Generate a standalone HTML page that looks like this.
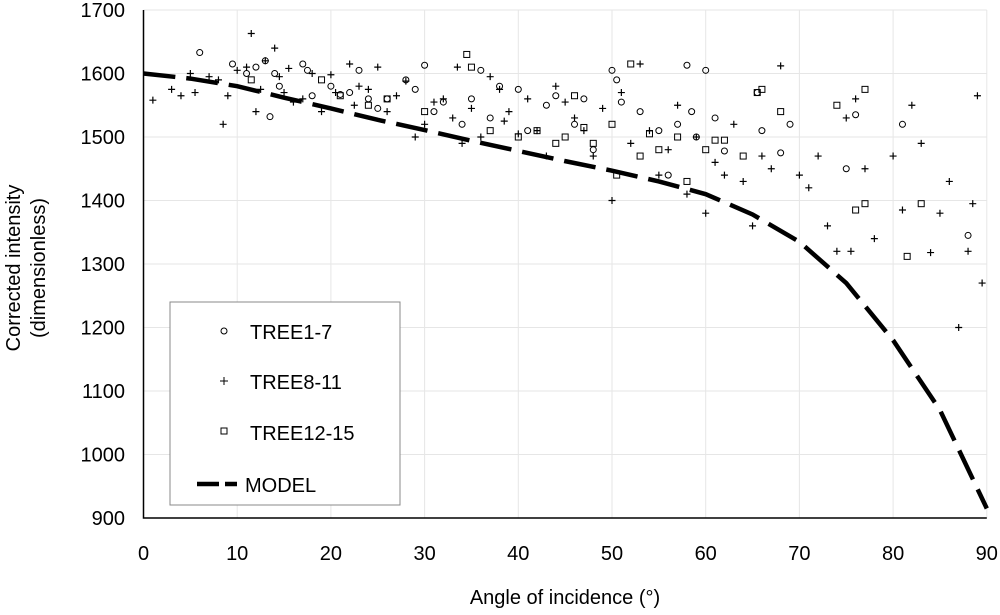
<!DOCTYPE html>
<html><head><meta charset="utf-8">
<style>
body{margin:0;background:#fff;width:1000px;height:610px;overflow:hidden;font-family:"Liberation Sans",sans-serif}
svg text{font-family:"Liberation Sans",sans-serif;fill:#000}
</style></head>
<body>
<svg id="chart" width="1000" height="610" viewBox="0 0 1000 610" xmlns="http://www.w3.org/2000/svg">
<g id="grid"></g>
<g id="axes"></g>
<g id="marks"></g>
<text x="565" y="604" font-size="20" text-anchor="middle">Angle of incidence (°)</text>
<text transform="translate(20,268) rotate(-90)" font-size="20" text-anchor="middle">Corrected intensity</text>
<text transform="translate(45,268) rotate(-90)" font-size="20" text-anchor="middle">(dimensionless)</text>
<g>
<rect x="170" y="302" width="230" height="203" fill="#fff" stroke="#888" stroke-width="1"/>
<g><circle cx="224" cy="331" r="3" fill="none" stroke="#000"/><text x="250" y="339" font-size="20">TREE1-7</text></g>
<g><path d="M220 381h8M224 377v8" stroke="#000"/><text x="250" y="389" font-size="20">TREE8-11</text></g>
<g><rect x="221" y="428" width="6" height="6" fill="none" stroke="#000"/><text x="250" y="440" font-size="20">TREE12-15</text></g>
<g><path d="M197 484h40" stroke="#000" stroke-width="4.5" stroke-dasharray="22 6"/><text x="245" y="492" font-size="20">MODEL</text></g>
</g>
</svg>
<script>
const xTicks=[0,10,20,30,40,50,60,70,80,90];
const yTicks=[900,1000,1100,1200,1300,1400,1500,1600,1700];
const modelAngles=[0,5,10,15,20,25,30,35,40,45,50,55,60,65,70,75,80,85,90];
const modelValues=[1600,1592,1580,1562,1545,1527,1511,1494,1478,1462,1447,1430,1410,1378,1335,1270,1180,1070,915];
const tree1Angles=[6,9.5,11,12,13,13.5,14,14.5,17,17.5,18,20,21,22,23,24,25,26,28,29,30,31,32,34,35,36,37,38,40,41,43,44,46,47,48,50,50.5,51,53,55,56,57,58,58.5,59,60,61,62,65.5,66,68,69,75,76,81,88];
const tree1Values=[1633,1615,1600,1610,1620,1532,1600,1580,1615,1605,1565,1580,1567,1570,1605,1560,1545,1560,1590,1575,1613,1540,1555,1520,1560,1605,1530,1580,1575,1510,1550,1565,1520,1560,1480,1605,1590,1555,1540,1510,1440,1520,1613,1540,1500,1605,1530,1478,1570,1510,1475,1520,1450,1535,1520,1345];
const tree2Angles=[1,3,4,5,5.5,7,8,8.5,9,10,11,11.5,12,12.5,13,14,14.5,15,15.5,16,17,18,19,20,20.5,22,22.5,23,24,25,26,27,28,29,30,31,32,33,33.5,34,35,36,37,38,38.5,39,40,41,42,43,44,45,46,47,48,49,50,51,52,53,54,55,56,57,58,59,60,61,62,63,64,65,66,67,68,70,71,72,73,74,75,75.5,76,77,78,80,81,82,83,84,85,86,87,88,88.5,89,89.5];
const tree2Values=[1558,1575,1565,1600,1570,1595,1590,1520,1565,1605,1610,1663,1540,1575,1620,1640,1595,1570,1608,1555,1560,1600,1540,1598,1570,1615,1550,1580,1575,1610,1540,1565,1588,1500,1520,1555,1560,1530,1610,1490,1545,1500,1595,1575,1525,1540,1505,1560,1510,1470,1580,1555,1530,1510,1470,1545,1400,1570,1490,1615,1510,1440,1480,1550,1410,1500,1380,1460,1440,1520,1430,1360,1470,1450,1612,1440,1420,1470,1360,1320,1530,1320,1560,1450,1340,1470,1385,1550,1490,1318,1380,1430,1200,1320,1395,1565,1270,1525,1345,1450,1430];
const tree3Angles=[11.5,19,21,24,26,30,34.5,35,37,40,42,44,45,46,47,48,50,50.5,52,53,54,55,57,58,60,61,62,64,65.5,66,68,74,76,77,77,81.5,83];
const tree3Values=[1590,1590,1565,1550,1560,1540,1630,1610,1510,1500,1510,1490,1500,1565,1515,1490,1520,1440,1615,1470,1505,1480,1500,1430,1480,1495,1495,1470,1570,1575,1540,1550,1385,1575,1395,1312,1395];
const X0=143.5,XS=9.37,Y0=73.5,YS=0.635;
const xs=a=>X0+a*XS, ys=v=>Y0-(v-1600)*YS;
const NS="http://www.w3.org/2000/svg";
const grid=document.getElementById('grid'),axes=document.getElementById('axes'),marks=document.getElementById('marks');
function mk(t,a,p){const e=document.createElementNS(NS,t);for(const k in a)e.setAttribute(k,a[k]);p.appendChild(e);return e;}
xTicks.forEach(t=>{
 const l=mk('line',{x1:xs(t),x2:xs(t),y1:ys(1700),y2:ys(900),stroke:'#e6e6e6'},grid);
 
 
 const tx=mk('text',{x:xs(t),y:ys(900)+42,'font-size':20,'text-anchor':'middle'},axes);tx.textContent=t;
 
 
});
yTicks.forEach(t=>{
 const l=mk('line',{x1:xs(0),x2:xs(90),y1:ys(t),y2:ys(t),stroke:'#e6e6e6'},grid);
 
 
 const tx=mk('text',{x:125,y:ys(t)+7,'font-size':20,'text-anchor':'end'},axes);tx.textContent=t;
 
 
});
const ax=mk('path',{d:`M${xs(0)} ${ys(1700)}V${ys(900)}H${xs(90)}`,stroke:'#000','stroke-width':1.5,fill:'none'},axes);


tree2Angles.forEach((a,i)=>{const x=xs(a),y=ys(tree2Values[i]);
 const p=mk('path',{d:`M${x-3.5} ${y}h7M${x} ${y-3.5}v7`,stroke:'#000','stroke-width':1.2},marks);
 
 });
tree1Angles.forEach((a,i)=>{
 const c=mk('circle',{cx:xs(a),cy:ys(tree1Values[i]),r:3,fill:'none',stroke:'#000','stroke-width':1},marks);
 
 });
tree3Angles.forEach((a,i)=>{
 const r=mk('rect',{x:xs(a)-3,y:ys(tree3Values[i])-3,width:6,height:6,fill:'none',stroke:'#000','stroke-width':1},marks);
 
 });
const d=modelAngles.map((a,i)=>(i?'L':'M')+xs(a)+' '+ys(modelValues[i])).join('');
const m=mk('path',{d:d,stroke:'#000','stroke-width':4.5,fill:'none','stroke-dasharray':'32 11'},marks);


</script>
</body></html>
